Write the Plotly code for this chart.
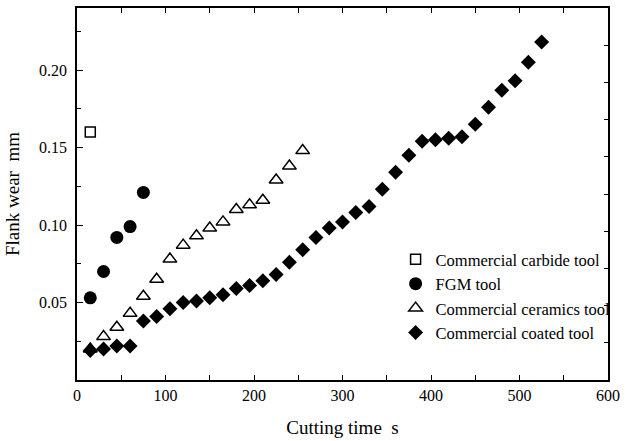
import plotly.graph_objects as go

# Data
carbide_x = [15]
carbide_y = [0.160]

fgm_x = [15, 30, 45, 60, 75]
fgm_y = [0.053, 0.070, 0.092, 0.099, 0.121]

ceramics_x = [15, 30, 45, 60, 75, 90, 105, 120, 135, 150, 165, 180, 195, 210, 225, 240, 255]
ceramics_y = [0.020, 0.028, 0.034, 0.043, 0.054, 0.065, 0.078, 0.087, 0.093, 0.098,
              0.102, 0.110, 0.113, 0.116, 0.129, 0.138, 0.148]

coated_x = [15, 30, 45, 60, 75, 90, 105, 120, 135, 150, 165, 180, 195, 210, 225, 240, 255,
            270, 285, 300, 315, 330, 345, 360, 375, 390, 405, 420, 435, 450, 465, 480, 495, 510, 525]
coated_y = [0.019, 0.020, 0.022, 0.022, 0.038, 0.041, 0.046, 0.050, 0.051, 0.053, 0.055,
            0.059, 0.061, 0.064, 0.068, 0.076, 0.084, 0.092, 0.098, 0.102, 0.108, 0.112,
            0.123, 0.134, 0.145, 0.154, 0.155, 0.156, 0.157, 0.165, 0.176, 0.187, 0.193,
            0.205, 0.218]

y_tickvals = [0.05, 0.10, 0.15, 0.20]
y_ticktext = ["0.05", "0.10", "0.15", "0.20"]
x_tickvals = [0, 100, 200, 300, 400, 500, 600]

FONT = "Liberation Serif, Times New Roman, serif"

fig = go.Figure()
fig.add_trace(go.Scatter(x=carbide_x, y=carbide_y, mode="markers", name="Commercial carbide tool",
                         marker=dict(symbol="square-open", size=10, color="black", line=dict(width=1.5, color="black"))))
fig.add_trace(go.Scatter(x=fgm_x, y=fgm_y, mode="markers", name="FGM tool",
                         marker=dict(symbol="circle", size=13, color="black", line=dict(width=0))))
fig.add_trace(go.Scatter(x=ceramics_x, y=ceramics_y, mode="markers", name="Commercial ceramics tool",
                         marker=dict(symbol="triangle-up-open", size=12, color="black", line=dict(width=1.5, color="black"))))
fig.add_trace(go.Scatter(x=coated_x, y=coated_y, mode="markers", name="Commercial coated tool",
                         marker=dict(symbol="diamond", size=11.5, color="black", line=dict(width=0))))
# invisible trace to carry the right-hand axis
fig.add_trace(go.Scatter(x=[None], y=[None], yaxis="y2", showlegend=False, hoverinfo="skip"))

fig.update_layout(
    width=626, height=441,
    margin=dict(l=77, r=12, t=6, b=58),
    paper_bgcolor="white", plot_bgcolor="white",
    font=dict(family=FONT, size=16, color="black"),
    showlegend=True,
    legend=dict(x=0.6, y=0.371, xanchor="left", yanchor="top",
                bgcolor="rgba(0,0,0,0)", borderwidth=0,
                font=dict(family=FONT, size=16.5, color="black"),
                tracegroupgap=0),
    xaxis=dict(range=[0, 600], tickvals=x_tickvals, ticks="inside", ticklen=5, tickwidth=1.2,
               tickcolor="black", showline=True, linecolor="black", linewidth=1.5,
               mirror="ticks", showgrid=False, zeroline=False,
               minor=dict(ticks="inside", dtick=50, tick0=0, ticklen=5, tickwidth=1.2, tickcolor="black"),
               title=dict(text="Cutting time\u00a0\u00a0s", font=dict(family=FONT, size=19), standoff=18),
               tickfont=dict(family=FONT, size=16)),
    yaxis=dict(range=[0, 0.24], tickvals=y_tickvals, ticktext=y_ticktext, ticks="inside", ticklen=6,
               tickwidth=1.2, tickcolor="black", showline=True, linecolor="black", linewidth=1.5,
               mirror=False, showgrid=False, zeroline=False, ticklabelstandoff=5,
               minor=dict(ticks="inside", dtick=0.025, tick0=0, ticklen=4, tickwidth=1.2, tickcolor="black"),
               title=dict(text="Flank wear\u00a0\u00a0mm", font=dict(family=FONT, size=19), standoff=14),
               tickfont=dict(family=FONT, size=16)),
    yaxis2=dict(range=[0, 10], dtick=1, tick0=0, overlaying="y", side="right", ticks="inside",
                ticklen=4, tickwidth=1.2, tickcolor="black", showline=True, linecolor="black",
                linewidth=1.5, showticklabels=False, showgrid=False, zeroline=False),
)

fig.write_html("out.html", config={"displayModeBar": False},
               post_script="document.body.style.margin='0';document.body.style.overflow='hidden';")
